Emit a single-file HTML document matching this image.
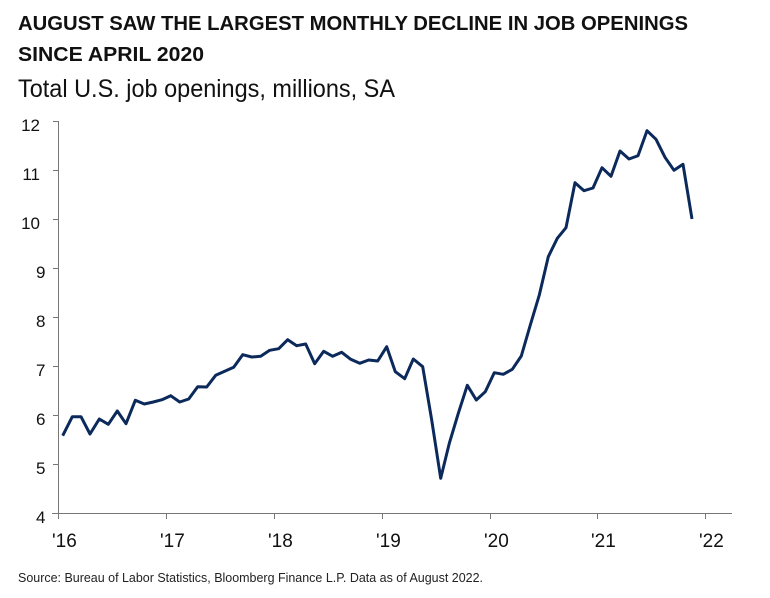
<!DOCTYPE html>
<html><head><meta charset="utf-8"><style>
html,body{margin:0;padding:0;background:#fff;}
svg{display:block;font-family:"Liberation Sans",sans-serif;}
</style></head><body>
<svg width="770" height="598" viewBox="0 0 770 598" xmlns="http://www.w3.org/2000/svg">
<text x="18" y="30" font-size="20" font-weight="bold" fill="#111" textLength="670" lengthAdjust="spacingAndGlyphs">AUGUST SAW THE LARGEST MONTHLY DECLINE IN JOB OPENINGS</text>
<text x="18" y="61" font-size="20" font-weight="bold" fill="#111" textLength="186" lengthAdjust="spacingAndGlyphs">SINCE APRIL 2020</text>
<text x="18" y="97" font-size="25" fill="#111" textLength="377" lengthAdjust="spacingAndGlyphs">Total U.S. job openings, millions, SA</text>
<g font-size="17" fill="#111">
<text x="40" y="131" text-anchor="end">12</text>
<text x="40" y="180" text-anchor="end">11</text>
<text x="40" y="229" text-anchor="end">10</text>
<text x="36" y="278">9</text>
<text x="36" y="327">8</text>
<text x="36" y="376">7</text>
<text x="36" y="425">6</text>
<text x="36" y="474">5</text>
<text x="36" y="523">4</text>
</g>
<g stroke="#777" stroke-width="1" fill="none">
<line x1="58.5" y1="121" x2="58.5" y2="513"/>
<line x1="52" y1="513.5" x2="732" y2="513.5"/>
<line x1="53" y1="121.5" x2="58" y2="121.5"/>
<line x1="53" y1="170.5" x2="58" y2="170.5"/>
<line x1="53" y1="219.5" x2="58" y2="219.5"/>
<line x1="53" y1="268.5" x2="58" y2="268.5"/>
<line x1="53" y1="317.5" x2="58" y2="317.5"/>
<line x1="53" y1="366.5" x2="58" y2="366.5"/>
<line x1="53" y1="415.5" x2="58" y2="415.5"/>
<line x1="53" y1="464.5" x2="58" y2="464.5"/>
<line x1="166.5" y1="513" x2="166.5" y2="519"/>
<line x1="274.5" y1="513" x2="274.5" y2="519"/>
<line x1="382.5" y1="513" x2="382.5" y2="519"/>
<line x1="490.5" y1="513" x2="490.5" y2="519"/>
<line x1="597.5" y1="513" x2="597.5" y2="519"/>
<line x1="705.5" y1="513" x2="705.5" y2="519"/>
<line x1="58.5" y1="513" x2="58.5" y2="519"/>
</g>
<g font-size="19" fill="#111">
<text x="52" y="547">'16</text>
<text x="160" y="547">'17</text>
<text x="268" y="547">'18</text>
<text x="376" y="547">'19</text>
<text x="484" y="547">'20</text>
<text x="591" y="547">'21</text>
<text x="699" y="547">'22</text>
</g>
<polyline fill="none" stroke="#0b2a5b" stroke-width="3" stroke-linejoin="round" points="62.7,435.7 72.3,416.7 81,416.7 90,434 99.3,419 108.3,424.3 117.3,411 126,423.7 135.3,400.3 144.3,404 153.3,402 162,399.7 170.7,395.7 179.7,402 188.7,399 197.7,386.7 206.7,387 215.7,375.3 224.7,371.3 233.7,367.3 242.7,354.7 251.7,357 260.7,356.3 269.7,350.3 278.7,348.7 287.7,339.7 296.7,345.7 305.7,344 314.7,363.7 323.7,351.3 332.7,356.3 341.7,352.3 350.7,359.3 359.7,363.3 368.7,360 377.7,361 386.7,346.7 395.3,371.7 404.7,378.7 413.3,359 422.7,366.7 431.7,420 440.7,478.3 449.3,443.3 458.3,413.3 467.3,385.3 476.3,400 485.3,391.7 494.3,372.7 503.3,374.3 512.3,369.3 521.3,356 530.3,325 539.3,295 548.3,256.7 557.3,238.3 566,227.7 575,182.7 584,190.7 593,188 602,167.7 611,176.3 620,151 629,159 638,155.7 647,130.7 656,139.3 665,157.3 674,170.3 683,164.3 692,219"/>
<text x="18" y="582" font-size="13" fill="#222" textLength="465" lengthAdjust="spacingAndGlyphs">Source: Bureau of Labor Statistics, Bloomberg Finance L.P. Data as of August 2022.</text>
</svg>
</body></html>
